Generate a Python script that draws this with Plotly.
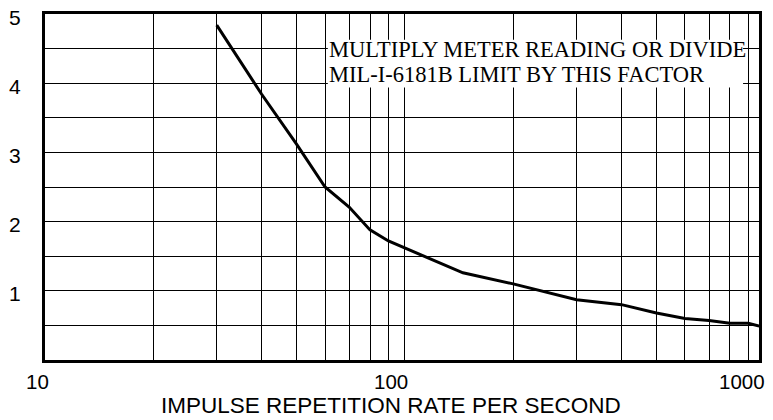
import plotly.graph_objects as go

# Data
rate = [30, 40, 50, 60, 70, 80, 90, 145, 200, 300, 400, 500, 600, 700, 800, 900, 965]
factor = [4.84, 3.84, 3.12, 2.50, 2.21, 1.88, 1.72, 1.26, 1.10, 0.87, 0.80, 0.68, 0.60, 0.57, 0.53, 0.53, 0.49]

x_grid = [20, 30, 40, 50, 60, 70, 80, 90, 100, 200, 300, 400, 500, 600, 700, 800, 900]
x_tick_text = ["10", "100", "1000"]
x_tick_px = [37, 392, 745]            # label centres (pixels) as printed on the chart
y_ticks = [1, 2, 3, 4, 5]
y_minor = [0.5, 1.5, 2.5, 3.5, 4.5]

note_lines = ["MULTIPLY METER READING OR DIVIDE", "MIL-I-6181B LIMIT BY THIS FACTOR"]
x_title = "IMPULSE REPETITION RATE PER SECOND"

W, H = 773, 420
ML, MR, MT, MB = 45, 11, 12, 60
PW = W - ML - MR
PH = H - MT - MB

def px_x(p):
    return (p - ML) / PW

def px_y(p):
    return (H - MB - p) / PH

fig = go.Figure()
fig.add_trace(go.Scatter(x=rate, y=factor, mode="lines",
                         line=dict(color="black", width=3), cliponaxis=False,
                         showlegend=False, hoverinfo="skip"))

sans = "Liberation Sans, Arial, Helvetica, sans-serif"
serif = "Liberation Serif, Times New Roman, serif"

fig.update_xaxes(type="log", range=[1, 2.984], tickvals=x_grid, showticklabels=False,
                 ticks="", showgrid=True, gridcolor="black", gridwidth=1,
                 showline=True, linewidth=3, linecolor="black", mirror=True,
                 zeroline=False)
fig.update_yaxes(range=[0, 5], tickvals=y_ticks, showticklabels=False,
                 ticks="", showgrid=True, gridcolor="black", gridwidth=1,
                 minor=dict(tickvals=y_minor, showgrid=True, gridcolor="black", gridwidth=1, ticks=""),
                 showline=True, linewidth=3, linecolor="black", mirror=True,
                 zeroline=False)

# y tick labels, slightly left of the frame
for v in y_ticks:
    fig.add_annotation(text=str(v), xref="paper", yref="y", x=px_x(23), y=v, yshift=-3,
                       xanchor="right", yanchor="middle", showarrow=False,
                       font=dict(family=sans, size=21, color="black"))

# white box behind the note
fig.add_shape(type="rect", xref="paper", yref="paper",
              x0=px_x(329), x1=px_x(746), y0=px_y(86), y1=px_y(38),
              fillcolor="white", line=dict(width=0), layer="above")

for i, line in enumerate(note_lines):
    fig.add_annotation(text=line, xref="paper", yref="paper",
                       x=px_x(328), y=px_y(48 + 25 * i), xanchor="left", yanchor="middle",
                       showarrow=False, font=dict(family=serif, size=22.5, color="black"))

for t, p in zip(x_tick_text, x_tick_px):
    fig.add_annotation(text=t, xref="paper", yref="paper", x=px_x(p), y=px_y(382),
                       xanchor="center", yanchor="middle", showarrow=False, borderpad=0,
                       font=dict(family=sans, size=20.5, color="black"))

fig.add_annotation(text=x_title, xref="paper", yref="paper", x=px_x(392), y=px_y(406),
                   xanchor="center", yanchor="middle", showarrow=False, borderpad=0,
                   font=dict(family=sans, size=22.5, color="black"))

fig.update_layout(width=W, height=H, margin=dict(l=ML, r=MR, t=MT, b=MB),
                  paper_bgcolor="white", plot_bgcolor="white")

fig.write_html("out.html")
